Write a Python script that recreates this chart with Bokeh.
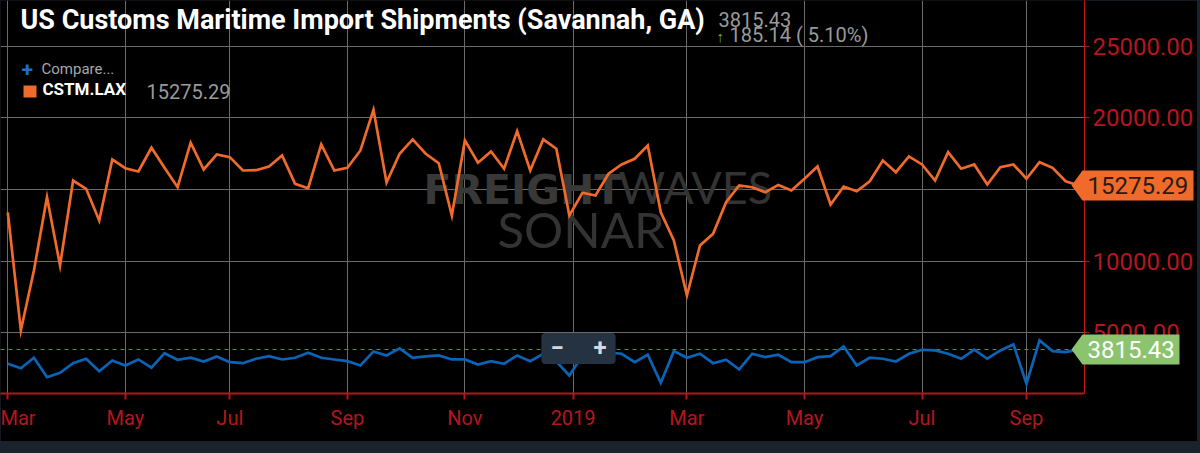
import pandas as pd
from bokeh.plotting import figure
from bokeh.models import (Range1d, FixedTicker, NumeralTickFormatter, Label, Span,
                          BoxAnnotation, SingleIntervalTicker, GlobalInlineStyleSheet)
from bokeh.core.properties import value
from bokeh.embed import file_html
from bokeh.resources import INLINE

# ---------------- data ----------------
start_date = "2018-03-04"
dates = pd.date_range(start_date, periods=83, freq="7D")

lax_values = [13400, 5150, 9340, 14460, 9690, 15630, 15050, 12830, 17100, 16490,
              16260, 17920, 16520, 15160, 18270, 16400, 17450, 17260, 16330, 16350,
              16610, 17380, 15400, 15090, 18150, 16330, 16520, 17730, 20570, 15490,
              17500, 18500, 17500, 16840, 13180, 18430, 16870, 17660, 16450, 19080,
              16330, 18500, 17850, 13180, 14770, 14580, 16100, 16750, 17150, 18080,
              13410, 11440, 7590, 11090, 11900, 14110, 15280, 15160, 14810, 15320,
              14930, 15750, 16610, 13950, 15210, 14880, 15580, 17030, 16210, 17310,
              16750, 15630, 17610, 16450, 16750, 15350, 16560, 16750, 15750, 16910,
              16520, 15580, 15275.29]

sav_values = [2820, 2510, 3240, 1880, 2190, 2860, 3170, 2300, 3050, 2700,
              3120, 2540, 3560, 3100, 3240, 2980, 3330, 2930, 2860, 3170,
              3350, 3120, 3240, 3590, 3240, 3120, 3000, 2700, 3680, 3400,
              3900, 3240, 3330, 3400, 3120, 3120, 2770, 3000, 2820, 3400,
              3000, 3520, 2980, 2000, 3400, 3500, 3600, 3520, 2930, 3450,
              1490, 3700, 3240, 3520, 2860, 3100, 2420, 3520, 3280, 3450,
              2930, 2930, 3280, 3350, 4030, 2700, 3240, 3170, 2980, 3520,
              3800, 3750, 3520, 3170, 3800, 3170, 3750, 4170, 1420, 4450,
              3700, 3630.29, 3815.43]

tick_dates = ["2018-03-04", "2018-05-06", "2018-07-01", "2018-09-02", "2018-11-04",
              "2019-01-01", "2019-03-03", "2019-05-05", "2019-07-07", "2019-09-01"]
tick_labels = ["Mar", "May", "Jul", "Sep", "Nov", "2019", "Mar", "May", "Jul", "Sep"]

title_text = "US Customs Maritime Import Shipments (Savannah, GA)"
series_name = "CSTM.LAX"

# ---------------- layout helpers ----------------
W, H = 1197, 441
FRAME_W, FRAME_H = 1084, 393
PX_PER_DAY = 13.06 / 7.0
DAY_MS = 86400000

def ms(d):
    return pd.Timestamp(d).value // 10**6

x0 = ms(dates[0]) - 7.3 / PX_PER_DAY * DAY_MS
x1 = x0 + FRAME_W / PX_PER_DAY * DAY_MS
UNIT_PER_PX = 69.9
y0 = 741.0
y1 = y0 + FRAME_H * UNIT_PER_PX

def X(px):
    return x0 + px / FRAME_W * (x1 - x0)

def Y(py):
    return y0 + (FRAME_H - py) * UNIT_PER_PX

RED = "#b5161e"
ORANGE = "#f06a2b"
BLUE = "#0b63b6"
GREEN_TAG = "#8cc46e"
GRID = "#6a6a6a"
FONT = "Roboto"
NB = "\u00a0"

p = figure(width=W, height=H, x_axis_type="datetime", y_axis_location="right",
           x_range=Range1d(x0, x1), y_range=Range1d(y0, y1),
           output_backend="svg", toolbar_location=None,
           min_border_left=0, min_border_right=W - FRAME_W, min_border_top=0,
           min_border_bottom=H - FRAME_H,
           background_fill_color="black", border_fill_color="black")
p.outline_line_color = None
p.stylesheets = [GlobalInlineStyleSheet(css="html, body { background: #1a222c; }")]

# axes
xa = p.xaxis[0]
xa.ticker = FixedTicker(ticks=[ms(d) for d in tick_dates])
xa.major_label_overrides = {ms(d): lab for d, lab in zip(tick_dates, tick_labels)}
xa.axis_line_color = RED
xa.axis_line_width = 2
xa.major_tick_line_color = RED
xa.major_tick_line_width = 2
xa.major_tick_out = 6
xa.major_tick_in = 0
xa.minor_tick_out = 0
xa.minor_tick_in = 0
xa.major_label_text_color = RED
xa.major_label_text_font = FONT
xa.major_label_text_font_size = "20px"
xa.major_label_standoff = 6

ya = p.yaxis[0]
ya.ticker = SingleIntervalTicker(interval=5000)
ya.formatter = NumeralTickFormatter(format="0.00")
ya.axis_line_color = "#c0161d"
ya.axis_line_width = 1
ya.major_tick_line_color = RED
ya.major_tick_out = 5
ya.major_tick_in = 0
ya.minor_tick_out = 0
ya.minor_tick_in = 0
ya.major_label_text_color = RED
ya.major_label_text_font = FONT
ya.major_label_text_font_size = "24px"
ya.major_label_standoff = 3

p.xgrid.grid_line_color = GRID
p.ygrid.grid_line_color = GRID
p.xgrid.grid_line_width = 1
p.ygrid.grid_line_width = 1

# watermark
p.add_layout(Label(x=X(423), y=Y(213), text="FREIGHT", text_font="DejaVu Sans",
                   text_font_style="bold", text_font_size="41px", text_color="#383838",
                   level="underlay"))
p.add_layout(Label(x=X(618), y=Y(213), text="WAVES", text_font="Lato",
                   text_font_size="45px", text_color="#333333", level="underlay"))
p.add_layout(Label(x=X(497), y=Y(257), text="SONAR", text_font="Lato",
                   text_font_size="49px", text_color="#333333", level="underlay"))

# last value dashed line
p.add_layout(Span(location=sav_values[-1], dimension="width", line_color="#5e8f3d",
                  line_dash="4 4", line_width=1, level="underlay"))

# series
p.line(dates, lax_values, line_color=ORANGE, line_width=2.7, line_join="miter")
p.line(dates, sav_values, line_color=BLUE, line_width=2.7, line_join="miter")

# title and header
p.add_layout(Label(x=X(20), y=Y(35), text=title_text, text_font=FONT,
                   text_font_style="bold", text_font_size="27px", text_color="white"))
p.add_layout(Label(x=X(718), y=Y(26), text=f"{sav_values[-1]:.2f}", text_font=FONT,
                   text_font_size="20px", text_color="#9a9a9a"))
chg = sav_values[-1] - sav_values[-2]
pct = chg / sav_values[-2] * 100
p.add_layout(Label(x=X(716), y=Y(45), text="↑", text_font=FONT, text_font_style="bold",
                   text_font_size="15px", text_color="#62b644"))
p.add_layout(Label(x=X(729), y=Y(46), text=f"{chg:.2f} ( {pct:.2f}%)", text_font=FONT,
                   text_font_size="20px", text_color="#9a9a9a"))

# legend
p.add_layout(Label(x=X(21), y=Y(76), text="+", text_font=FONT, text_font_style="bold",
                   text_font_size="21px", text_color="#1f6fc6"))
p.add_layout(Label(x=X(41), y=Y(77), text="Compare...", text_font=FONT,
                   text_font_size="15px", text_color="#a4a8ad"))
p.add_layout(Label(x=X(42), y=Y(98), text=series_name, text_font=FONT,
                   text_font_style="bold", text_font_size="17px", text_color="white"))
p.add_layout(Label(x=X(146), y=Y(98), text=f"{lax_values[-1]:.2f}", text_font=FONT,
                   text_font_size="20px", text_color="#9a9a9a"))
p.add_layout(BoxAnnotation(left=X(23), right=X(36), top=Y(85), bottom=Y(97),
                           fill_color=ORANGE, fill_alpha=1, line_color=None))

# zoom buttons
p.add_layout(Label(x=X(578), y=Y(348), text="−" + NB * 5 + "+", text_font=FONT,
                   text_font_style="bold", text_font_size="24px", text_color="#d5d9dd",
                   text_align="center", text_baseline="middle",
                   background_fill_color="#253242", background_fill_alpha=1,
                   border_radius=4, padding=dict(left=9, right=9, top=1, bottom=2)))

# value tags drawn as glyphs on the overlay level (not clipped to the frame)
TAG_H = 15 * UNIT_PER_PX

def tag(v, right_px, fill, txt_color):
    p.patch([X(1071), X(1082), X(right_px), X(right_px), X(1082)],
            [v, v + TAG_H, v + TAG_H, v - TAG_H, v - TAG_H],
            fill_color=fill, fill_alpha=1, line_color=None, level="overlay")
    p.text(x=[X(1087)], y=[v], text=[f"{v:.2f}"], text_font=value(FONT),
           text_font_size="24px", text_color=txt_color, text_align="left",
           text_baseline="middle", level="overlay")

tag(lax_values[-1], 1193, ORANGE, "#2b1b12")
tag(sav_values[-1], 1179, GREEN_TAG, "white")

open("out.html", "w").write(file_html(p, INLINE))
